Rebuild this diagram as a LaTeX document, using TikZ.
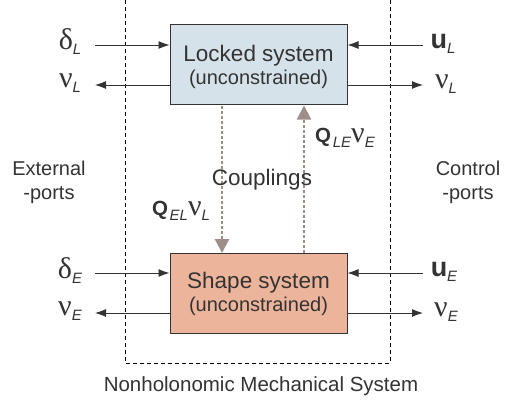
\documentclass[tikz,border=0pt]{standalone}
\usepackage{fontspec}
\setmainfont{Liberation Sans}
\newfontfamily\greekfont{Liberation Serif}
\usetikzlibrary{arrows.meta}
\definecolor{txt}{HTML}{333333}
\definecolor{lockblue}{HTML}{D6E2EA}
\definecolor{shapesal}{HTML}{ECB59B}
\definecolor{coupl}{HTML}{9E8E88}
\newcommand{\gr}[1]{{\greekfont\fontsize{30}{32}\selectfont #1}}
\newcommand{\sbs}[1]{\raisebox{-5pt}{\fontsize{15}{17}\selectfont\itshape #1}}
\newcommand{\bvec}[1]{{\fontsize{27}{30}\selectfont\bfseries #1}}
\newcommand{\bQ}{{\fontsize{20.5}{22}\selectfont\bfseries Q}}
\begin{document}
\begin{tikzpicture}[x=1pt,y=-1pt,
  every node/.style={text=txt, inner sep=0pt},
  sysbox/.style={draw=txt, line width=1pt, minimum width=177pt, minimum height=80pt},
  port/.style={draw=txt, line width=0.9pt, -{Latex[length=11pt,width=8pt]}},
  coup/.style={draw=coupl, line width=2.3pt, dash pattern=on 3.2pt off 1.8pt, -{Triangle[length=14pt,width=14pt]}},
  frame/.style={draw=black, line width=0.8pt, dash pattern=on 4pt off 3pt},
  lbl/.style={font=\fontsize{20}{24}\selectfont, align=center},
  boxtitle/.style={font=\fontsize{22.5}{26}\selectfont},
  boxsub/.style={font=\fontsize{20}{24}\selectfont}]
\useasboundingbox (0,0) rectangle (517,405);
% frame
\coordinate (ftl) at (125,0);
\coordinate (fbl) at (125,363);
\coordinate (fbr) at (390,363);
\coordinate (ftr) at (390,0);
\draw[frame] (ftl) -- (fbl) -- (fbr) -- (ftr);
% boxes
\node[sysbox, fill=lockblue] (lock) at (258.5,64.5) {};
\node[boxtitle] (lockt) at (258.5,56) {Locked system};
\node[boxsub] (locks) at (258.5,79) {(unconstrained)};
\node[sysbox, fill=shapesal] (shape) at (258.5,293.5) {};
\node[boxtitle] (shapet) at (258.5,283) {Shape system};
\node[boxsub] (shapes) at (258.5,306) {(unconstrained)};
% port endpoints
\coordinate (dLs) at (95,45);  \coordinate (dLe) at (lock.west |- dLs);
\coordinate (nLe) at (95,85);  \coordinate (nLs) at (lock.west |- nLe);
\coordinate (uLs) at (423,45); \coordinate (uLe) at (lock.east |- uLs);
\coordinate (nRe) at (423,85); \coordinate (nRs) at (lock.east |- nRe);
\coordinate (dEs) at (95,273);  \coordinate (dEe) at (shape.west |- dEs);
\coordinate (nEe) at (95,313);  \coordinate (nEs) at (shape.west |- nEe);
\coordinate (uEs) at (423,273); \coordinate (uEe) at (shape.east |- uEs);
\coordinate (nERe) at (423,313); \coordinate (nERs) at (shape.east |- nERe);
\draw[port] (dLs) -- (dLe);
\draw[port] (nLs) -- (nLe);
\draw[port] (uLs) -- (uLe);
\draw[port] (nRs) -- (nRe);
\draw[port] (dEs) -- (dEe);
\draw[port] (nEs) -- (nEe);
\draw[port] (uEs) -- (uEe);
\draw[port] (nERs) -- (nERe);
% port labels
\node (ldL) at (70,42) {\gr{δ}\sbs{L}};
\node (lnL) at (70,83) {\gr{ν}\sbs{L}};
\node (luL) at (443,44) {\bvec{u}\sbs{L}};
\node (lnR) at (446,84) {\gr{ν}\sbs{L}};
\node (ldE) at (70,271) {\gr{δ}\sbs{E}};
\node (lnE) at (70,311) {\gr{ν}\sbs{E}};
\node (luE) at (444,272) {\bvec{u}\sbs{E}};
\node (lnER) at (446,312) {\gr{ν}\sbs{E}};
% couplings
\coordinate (cdS) at (222,0 |- lock.south);
\coordinate (cdE) at (222,0 |- shape.north);
\coordinate (cuS) at (304,0 |- shape.north);
\coordinate (cuE) at (304,0 |- lock.south);
\draw[coup] ([yshift=-0.5pt]cdS) -- (cdE);
\draw[coup] (cuS) -- ([yshift=-0.5pt]cuE);
\node[lbl, font=\fontsize{22.5}{26}\selectfont] (coupl) at (262,180) {Couplings};
\node (qel) at (181,211) {\bQ\,\sbs{EL}\gr{ν}\sbs{L}};
\node (qle) at (345,138) {\bQ\,\sbs{LE}\gr{ν}\sbs{E}};
% side labels
\node[lbl] (ext) at (49,182) {External\\-ports};
\node[lbl] (ctl) at (468,182) {Control\\-ports};
\node[lbl, font=\fontsize{20.5}{24}\selectfont] (title) at (261,386) {Nonholonomic Mechanical System};
\end{tikzpicture}
\end{document}
